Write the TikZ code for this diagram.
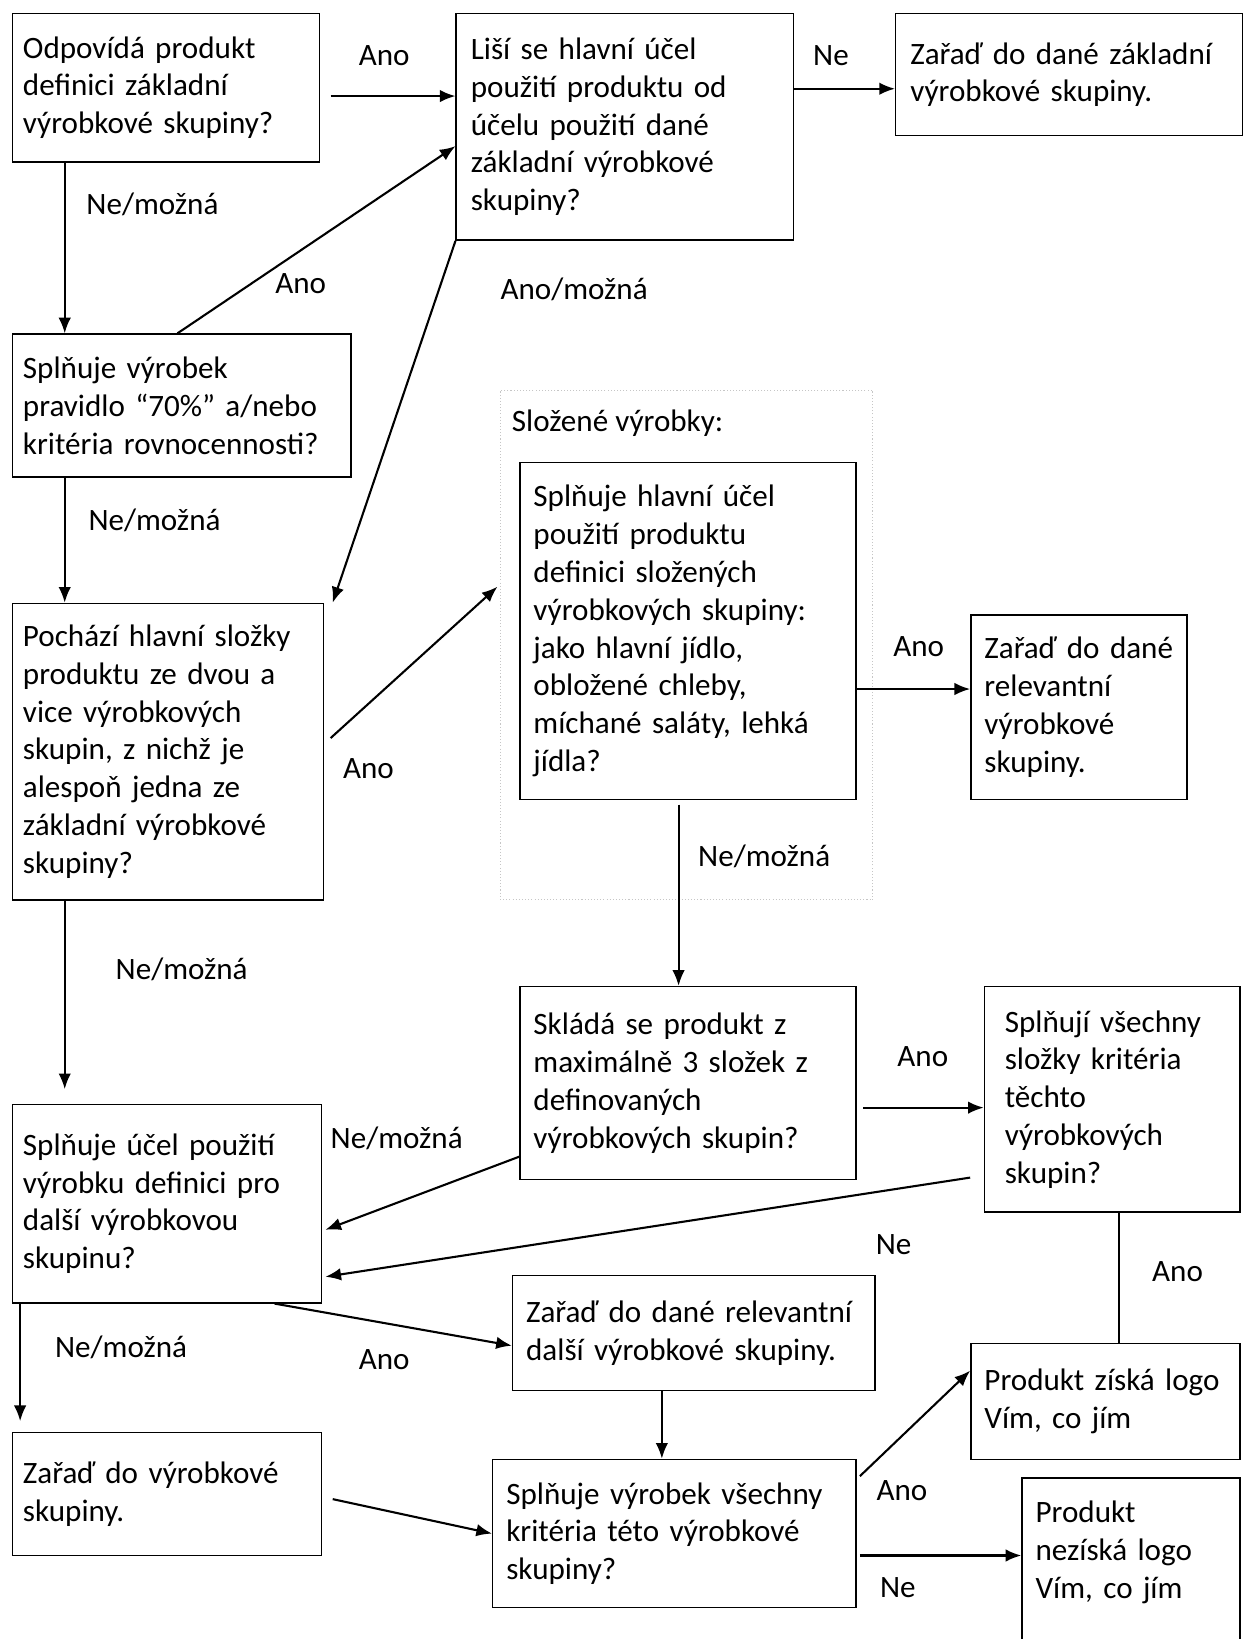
\documentclass[tikz,border=0pt]{standalone}
\usepackage{fontspec}
\setmainfont{Carlito}
\usepackage{tikz}
\usetikzlibrary{arrows.meta,positioning}

\begin{document}
\begin{tikzpicture}
		[x=0.5pt, y=-0.5pt, font=\fontsize{14.9}{18.1}\selectfont, inner sep=0pt,
		stepbox/.style	= {draw, line width=0.7pt, inner sep=0pt, align=left},
		group/.style	= {draw, densely dotted, gray!45, line width=0.5pt, inner sep=0pt},
		lab/.style		= {inner sep=0pt},
		arr/.style		= {line width=1pt, -{Latex[length=7.5pt,width=6pt]}},
		line/.style		= {line width=1pt}]

		\useasboundingbox (0,0) rectangle (1193,1570);
		\clip (0,0) rectangle (1193,1570);

		% boxes
		\node [stepbox, minimum width=147pt, minimum height=71pt, text width=137pt]		at (159,84)		(A)	{Odpovídá produkt\\definici základní\\výrobkové skupiny?};
		\node [stepbox, minimum width=161.5pt, minimum height=108.5pt, text width=147.5pt] at (598.5,121.5) (B) {Liší se hlavní účel\\použití produktu od\\účelu použití dané\\základní výrobkové\\skupiny?};
		\node [stepbox, minimum width=166pt, minimum height=58.5pt, text width=152pt]	at (1024,71.5)	(C)	{Zařaď do dané základní\\výrobkové skupiny.};
		\node [stepbox, minimum width=162pt, minimum height=68.5pt, text width=152pt]	at (174,388.5)	(D)	{Splňuje výrobek\\pravidlo “70\%” a/nebo\\kritéria rovnocennosti?};
		\node [stepbox, minimum width=149pt, minimum height=142pt, text width=139pt]	at (161,720)	(F)	{Pochází hlavní složky\\produktu ze dvou a\\vice výrobkových\\skupin, z nichž je\\alespoň jedna ze\\základní výrobkové\\skupiny?};

		\node [group, minimum width=178.5pt, minimum height=244pt]	at (657.5,618)	(grp)	{};
		\node [lab, anchor=west]	at (490,405)	(grplab)	{Složené výrobky:};

		\node [stepbox, minimum width=161pt, minimum height=161.5pt, text width=148pt]	at (659,604.5)	(G)	{Splňuje hlavní účel\\použití produktu\\definici složených\\výrobkových skupiny:\\jako hlavní jídlo,\\obložené chleby,\\míchané saláty, lehká\\jídla?};
		\node [stepbox, minimum width=103.5pt, minimum height=88.5pt, text width=90.5pt]	at (1033.5,677.5) (H) {Zařaď do dané\\relevantní\\výrobkové\\skupiny.};
		\node [stepbox, minimum width=161pt, minimum height=92.5pt, text width=148pt]	at (659,1037.5)	(I)	{Skládá se produkt z\\maximálně 3 složek z\\definovaných\\výrobkových skupin?};
		\node [stepbox, minimum width=122.5pt, minimum height=108pt, text width=103pt]	at (1065.5,1053) (K) {Splňují všechny\\složky kritéria\\těchto\\výrobkových\\skupin?};
		\node [stepbox, minimum width=148pt, minimum height=95pt, text width=138pt]		at (160,1153)	(J)	{Splňuje účel použití\\výrobku definici pro\\další výrobkovou\\skupinu?};
		\node [stepbox, minimum width=173.5pt, minimum height=55pt, text width=160.5pt]	at (664.5,1277)	(L)	{Zařaď do dané relevantní\\další výrobkové skupiny.};
		\node [stepbox, minimum width=129pt, minimum height=55.5pt, text width=116pt]	at (1059,1342.5) (M) {Produkt získá logo\\Vím, co jím};
		\node [stepbox, minimum width=148pt, minimum height=59pt, text width=138pt]		at (160,1431)	(N)	{Zařaď do výrobkové\\skupiny.};
		\node [stepbox, minimum width=174pt, minimum height=71pt, text width=161pt]		at (646,1469)	(O)	{Splňuje výrobek všechny\\kritéria této výrobkové\\skupiny?};
		\node [stepbox, anchor=north, minimum width=104.5pt, text width=91.5pt, inner ysep=11pt, text depth=300pt] at (1083.5,1415) (P) {Produkt\\nezíská logo\\Vím, co jím};

		% connectors
		\draw [arr] ([xshift=5pt,yshift=-4pt]A.east) -- ([yshift=-4pt]A.east -| B.west);
		\draw [arr] ([yshift=18.25pt]B.east) -- ([yshift=18.25pt]B.east -| C.west);
		\draw [arr] ([xshift=-48.5pt]A.south) -- ([xshift=-48.5pt]A.south |- D.north);
		\draw [arr] ([xshift=-2pt]D.north) -- ([yshift=-9.25pt]B.west);
		\draw [arr] (B.south west) -- ([xshift=4pt]F.north east);
		\draw [arr] ([xshift=-56pt]D.south) -- ([xshift=-56pt]D.south |- F.north);
		\draw [arr] ([xshift=3pt,yshift=6.5pt]F.east) -- ([xshift=-1pt,yshift=28pt]grp.west);
		\draw [arr] ([yshift=-27.75pt]G.east) -- ([yshift=-27.75pt]G.east -| H.west);
		\draw [arr] ([xshift=-4.5pt,yshift=-2pt]G.south) -- ([xshift=-4.5pt]G.south |- I.north);
		\draw [arr, shorten >=7pt] ([xshift=-49.5pt]F.south) -- ([xshift=-49.5pt]F.south |- J.north);
		\draw [arr] ([xshift=3pt,yshift=-11.75pt]I.east) -- ([yshift=-11.75pt]I.east -| K.west);
		\draw [arr] ([yshift=-35.25pt]I.west) -- ([xshift=1.5pt,yshift=-12.5pt]J.east);
		\draw [arr] ([xshift=-6.5pt,yshift=-37.5pt]K.west) -- ([xshift=1.5pt,yshift=-35pt]J.east);
		\draw [line] ([xshift=3.25pt]K.south) -- ([xshift=3.25pt]K.south |- M.north);
		\draw [arr] ([xshift=51.5pt]J.south) -- ([yshift=-6pt]L.west);
		\draw [arr, shorten >=5pt] ([xshift=4pt]J.south west) -- ([xshift=4pt]J.south west |- N.north);
		\draw [arr] ([xshift=-15.25pt]L.south) -- ([xshift=-15.25pt]L.south |- O.north);
		\draw [arr] ([xshift=5pt,yshift=-2.5pt]N.east) -- (O.west);
		\draw [arr] ([xshift=1.5pt,yshift=27.5pt]O.east) -- ([yshift=14.75pt]M.west);
		\draw [arr] ([xshift=1.5pt,yshift=-10.5pt]O.east) -- ([yshift=-10.5pt]O.east -| P.west);

		% labels
		\node [lab] at (368,53)		(l1)	{Ano};
		\node [lab] at (796,53)		(l2)	{Ne};
		\node [lab] at (146,196)	(l3)	{Ne/možná};
		\node [lab] at (288,272)	(l4)	{Ano};
		\node [lab] at (550,277)	(l5)	{Ano/možná};
		\node [lab] at (148,498)	(l6)	{Ne/možná};
		\node [lab] at (353,736)	(l7)	{Ano};
		\node [lab] at (880,619)	(l8)	{Ano};
		\node [lab] at (732,820)	(l9)	{Ne/možná};
		\node [lab] at (174,929)	(l10)	{Ne/možná};
		\node [lab] at (884,1012)	(l11)	{Ano};
		\node [lab] at (380,1090)	(l12)	{Ne/možná};
		\node [lab] at (856,1192)	(l13)	{Ne};
		\node [lab] at (1128,1218)	(l14)	{Ano};
		\node [lab] at (116,1291)	(l15)	{Ne/možná};
		\node [lab] at (368,1302)	(l16)	{Ano};
		\node [lab] at (864,1428)	(l17)	{Ano};
		\node [lab] at (860,1521)	(l18)	{Ne};
\end{tikzpicture}
\end{document}
